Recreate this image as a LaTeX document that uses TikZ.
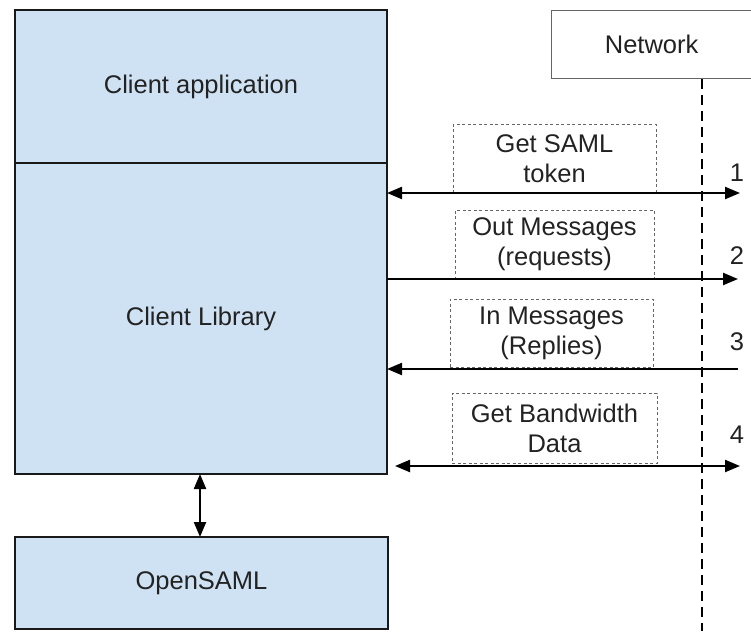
\documentclass[tikz,border=0pt]{standalone}
\usepackage{fontspec}
\setmainfont{Liberation Sans}
\usetikzlibrary{arrows.meta}
\definecolor{boxblue}{HTML}{CFE2F3}
\definecolor{txt}{HTML}{222222}
\definecolor{dgrey}{HTML}{666666}
\begin{document}
\begin{tikzpicture}[x=1pt,y=-1pt,
  font=\fontsize{25.5}{30}\selectfont, text=txt,
  block/.style={draw=black!90, line width=2.2pt, fill=boxblue, inner sep=0pt, outer sep=0pt, anchor=north west},
  lbl/.style={draw=dgrey, line width=1pt, dash pattern=on 3pt off 2.5pt, inner sep=0pt, outer sep=0pt, anchor=north west},
  tip/.style={Triangle[length=15pt,width=12pt]},
  conn/.style={line width=2.2pt, draw=black, -{Triangle[length=15pt,width=12pt]}},
  dconn/.style={line width=2.2pt, draw=black, {Triangle[length=15pt,width=12pt]}-{Triangle[length=15pt,width=12pt]}},
  num/.style={inner sep=0pt}]
\useasboundingbox (0,0) rectangle (751,631);
% main blocks
\node[block, minimum width=372pt, minimum height=153pt] (app) at (15,10) {};
\node at (app.center) {Client application};
\node[block, minimum width=372pt, minimum height=311pt] (lib) at (15,163) {};
\node at (lib.center) {Client Library};
\node[block, minimum width=373pt, minimum height=92pt] (saml) at (15,537) {};
\node at (saml.center) {OpenSAML};
\draw[dconn] (saml.north -| 200,0) -- (lib.south -| 200,0);
% network
\node[draw=dgrey, line width=1.3pt, fill=white, inner sep=0pt, anchor=north west, minimum width=200pt, minimum height=68pt] (net) at (551,10) {};
\node at (net.center) {Network};
\coordinate (netbot) at (702,631);
\draw[line width=2.5pt, dash pattern=on 10pt off 6pt] (net.south -| netbot) -- (netbot);
% label boxes
\node[lbl, minimum width=203pt, minimum height=68pt] (l1) at (453,125) {};
\node[align=center] at (l1.center) {Get SAML\\token};
\node[lbl, minimum width=199pt, minimum height=69pt] (l2) at (455,210) {};
\node[align=center] at (l2.center) {Out Messages\\(requests)};
\node[lbl, minimum width=203pt, minimum height=68pt] (l3) at (450,299) {};
\node[align=center] at (l3.center) {In Messages\\(Replies)};
\node[lbl, minimum width=205pt, minimum height=70pt] (l4) at (452,393) {};
\node[align=center] at (l4.center) {Get Bandwidth\\Data};
% connectors
\coordinate (e1) at (740,193);
\coordinate (e2) at (738,279);
\coordinate (e3) at (738,369);
\coordinate (e4) at (740,466);
\coordinate (s4) at (395,466);
\draw[dconn] (lib.east |- e1) -- (e1);
\draw[conn] (lib.east |- e2) -- (e2);
\draw[conn] (e3) -- (lib.east |- e3);
\draw[dconn] (s4) -- (e4);
% numbers
\node[num] (n1) at (737,173) {1};
\node[num] (n2) at (737,256) {2};
\node[num] (n3) at (737,342) {3};
\node[num] (n4) at (737,435) {4};
\end{tikzpicture}
\end{document}
